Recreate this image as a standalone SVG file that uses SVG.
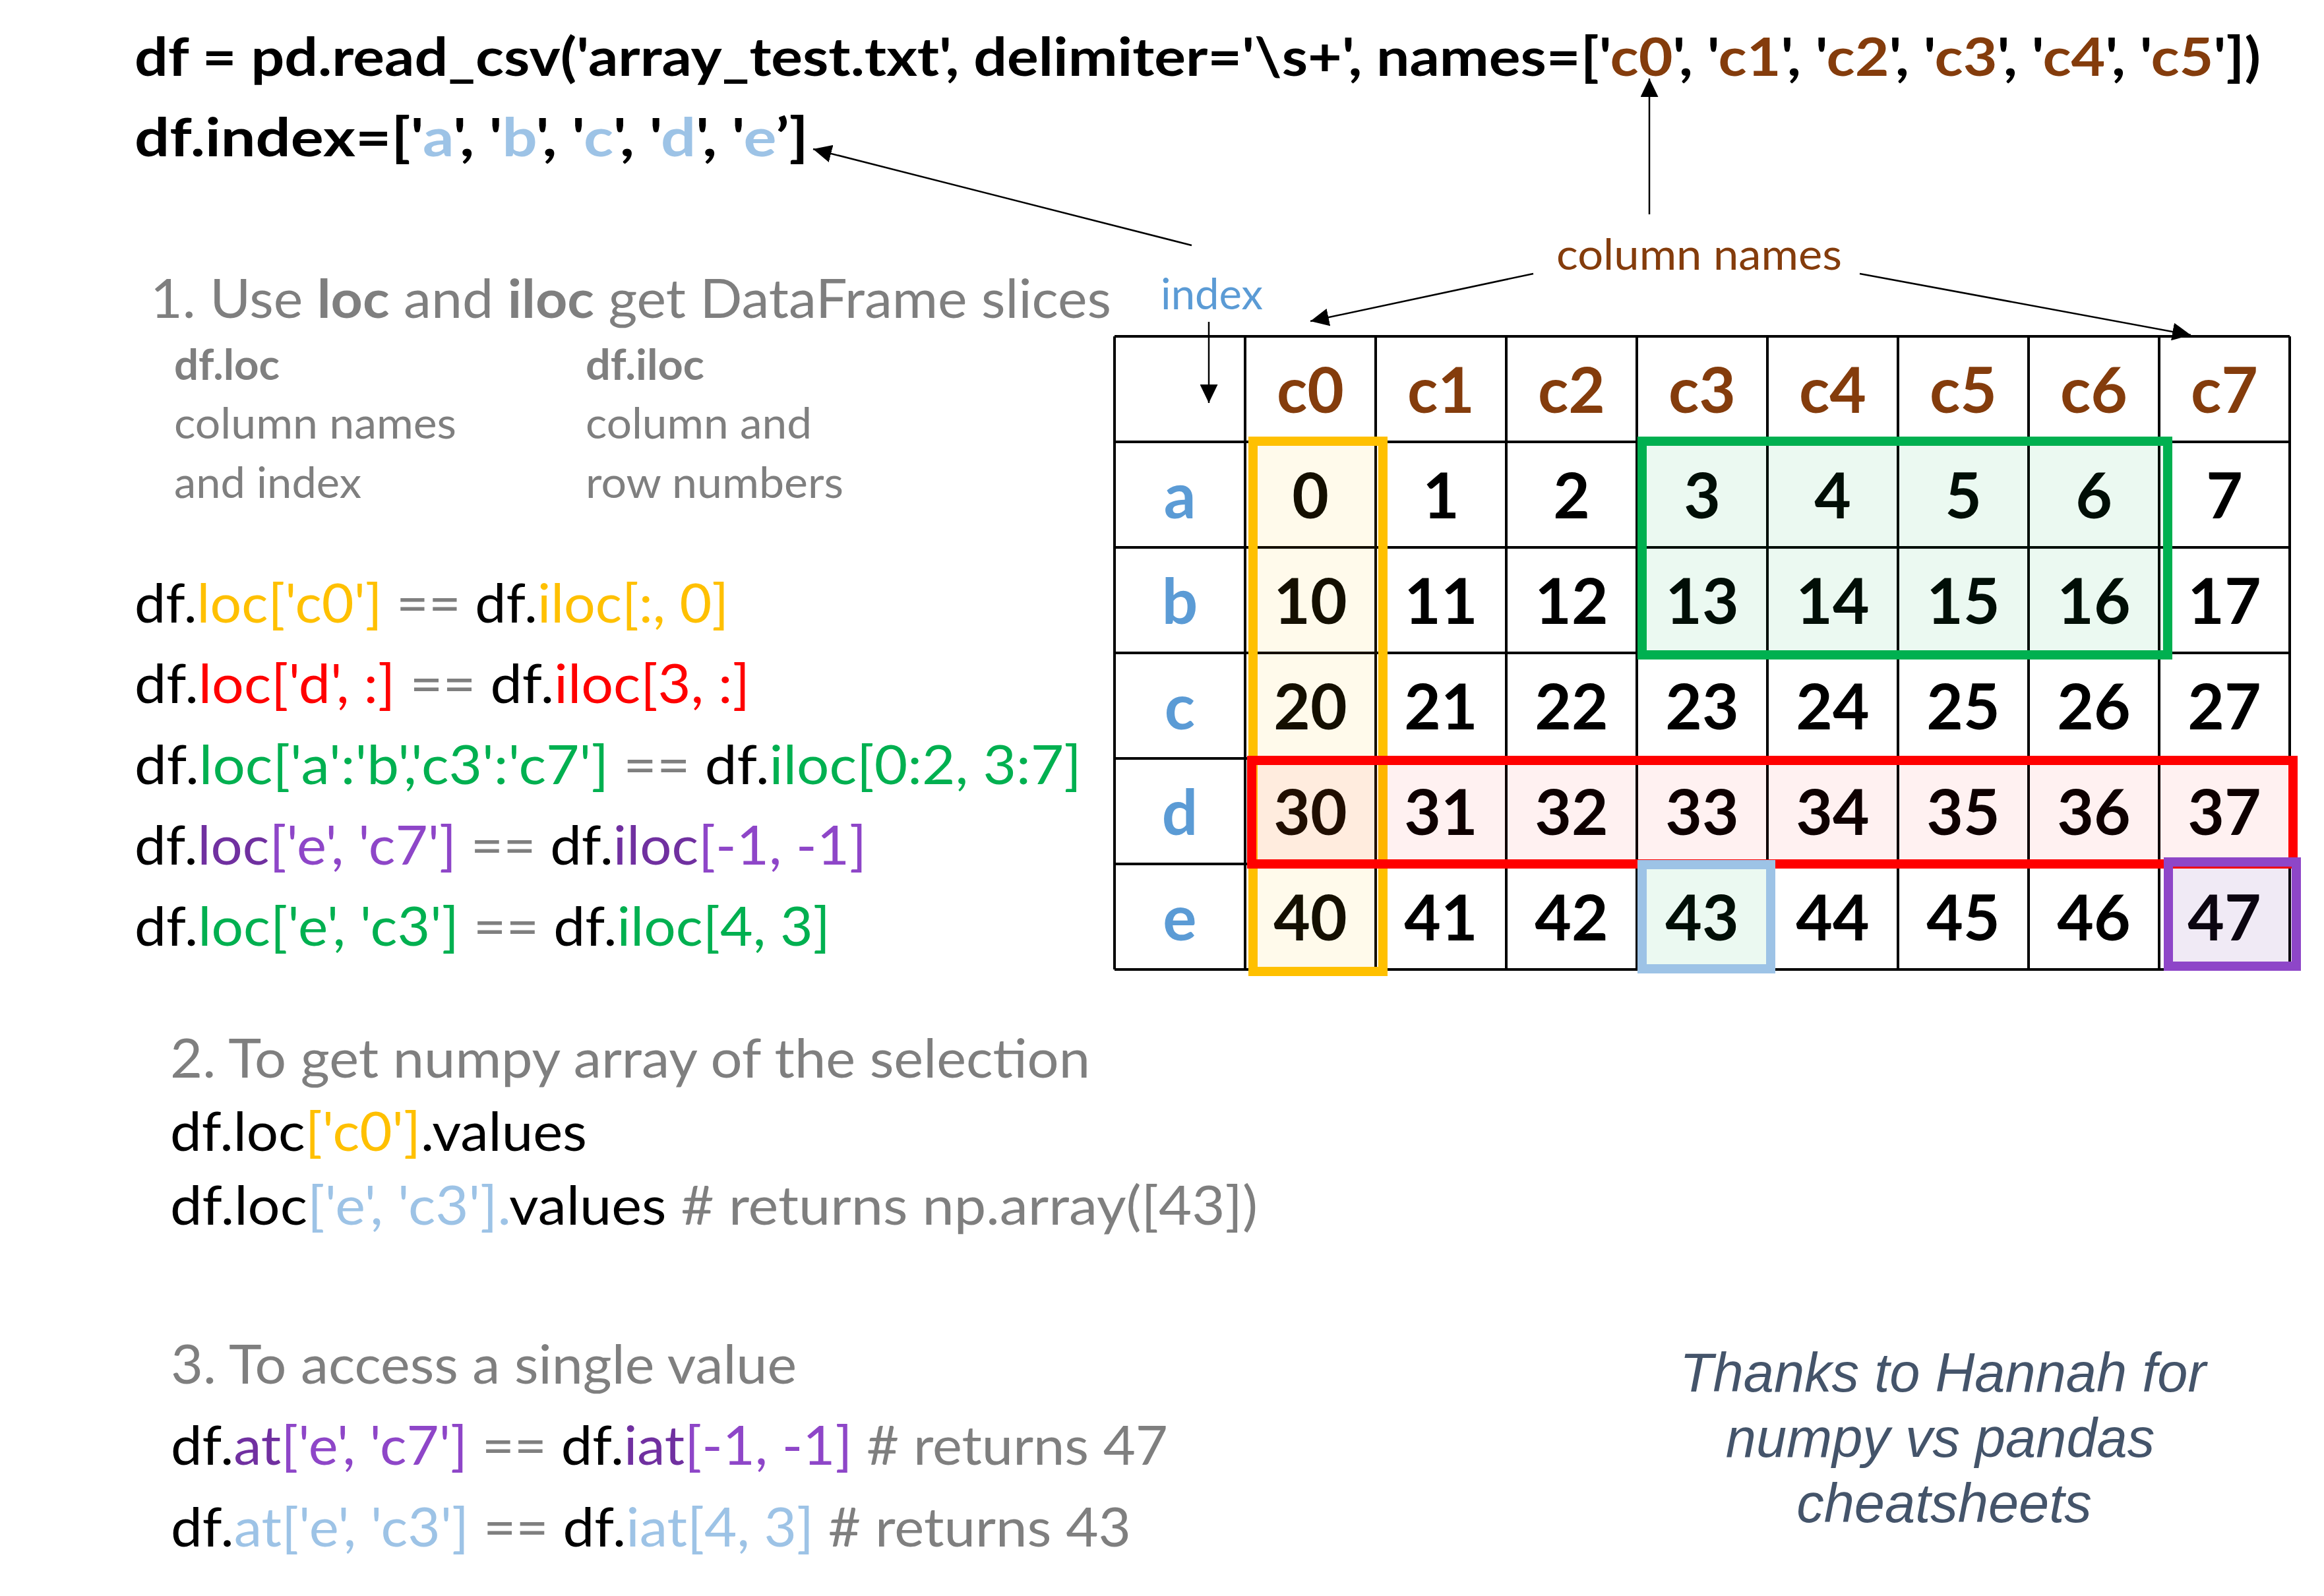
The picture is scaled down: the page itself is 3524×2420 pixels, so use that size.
<svg xmlns="http://www.w3.org/2000/svg" width="3524" height="2420" viewBox="0 0 3524 2420">
<style>
text{font-family:Lato,"Open Sans","Liberation Sans",sans-serif;}
.bold{font-weight:700;}
.code{font-size:81px;}
.top{font-size:80px;font-weight:700;}
.small{font-size:65px;}
.gray{fill:#7F7F7F;}
.blk{fill:#000000;}
.brn{fill:#843C0C;}
.lb{fill:#9DC3E6;}
.or{fill:#FFC000;}
.rd{fill:#FF0000;}
.gr{fill:#00B050;}
.dp{fill:#7030A0;}
.lp{fill:#8E46C8;}
.cell{font-size:96px;font-weight:700;text-anchor:middle;fill:#000;}
.hdr{font-size:96px;font-weight:700;text-anchor:middle;fill:#843C0C;}
.row{font-size:96px;font-weight:700;text-anchor:middle;fill:#5B9BD5;}
.grid{stroke:#000;stroke-width:4;fill:none;}
.box{stroke-width:14;}
.conn{stroke:#000;stroke-width:2.5;fill:none;marker-end:url(#arrow);}
.credit{font-family:"Liberation Sans",Arial,sans-serif;font-style:italic;font-size:83px;fill:#44546A;text-anchor:middle;}
</style>
<defs>
<marker id="arrow" markerUnits="userSpaceOnUse" markerWidth="28" markerHeight="27" refX="28" refY="13.5" orient="auto">
<path d="M0,0 L28,13.5 L0,27 z" fill="#000"/>
</marker>
</defs>
<rect x="0" y="0" width="3524" height="2420" fill="#FFFFFF"/>

<g id="header-code">
<text x="204" y="115" class="top blk" textLength="3224" lengthAdjust="spacingAndGlyphs">df = pd.read_csv('array_test.txt', delimiter='\s+', names=['<tspan class="brn">c0</tspan>', '<tspan class="brn">c1</tspan>', '<tspan class="brn">c2</tspan>', '<tspan class="brn">c3</tspan>', '<tspan class="brn">c4</tspan>', '<tspan class="brn">c5</tspan>'])</text>
<text x="204" y="237" class="top blk" textLength="1022" lengthAdjust="spacingAndGlyphs">df.index=['<tspan class="lb">a</tspan>', '<tspan class="lb">b</tspan>', '<tspan class="lb">c</tspan>', '<tspan class="lb">d</tspan>', '<tspan class="lb">e</tspan>’]</text>
</g>

<g id="section1">
<text x="228" y="482" class="code gray" textLength="1457" lengthAdjust="spacingAndGlyphs">1. Use <tspan class="bold">loc</tspan> and <tspan class="bold">iloc</tspan> get DataFrame slices</text>
<text x="264" y="576" class="small gray bold" textLength="160" lengthAdjust="spacingAndGlyphs">df.loc</text>
<text x="888" y="576" class="small gray bold" textLength="180" lengthAdjust="spacingAndGlyphs">df.iloc</text>
<text x="264" y="665" class="small gray" textLength="428" lengthAdjust="spacingAndGlyphs">column names</text>
<text x="264" y="755" class="small gray" textLength="284" lengthAdjust="spacingAndGlyphs">and index</text>
<text x="888" y="665" class="small gray" textLength="343" lengthAdjust="spacingAndGlyphs">column and</text>
<text x="888" y="755" class="small gray" textLength="391" lengthAdjust="spacingAndGlyphs">row numbers</text>
<text x="204" y="944" class="code blk" textLength="901" lengthAdjust="spacingAndGlyphs">df.<tspan class="or">loc['c0']</tspan><tspan class="gray"> == </tspan>df.<tspan class="or">iloc[:, 0]</tspan></text>
<text x="204" y="1066" class="code blk" textLength="933" lengthAdjust="spacingAndGlyphs">df.<tspan class="rd">loc['d', :]</tspan><tspan class="gray"> == </tspan>df.<tspan class="rd">iloc[3, :]</tspan></text>
<text x="204" y="1189" class="code blk" textLength="1436" lengthAdjust="spacingAndGlyphs">df.<tspan class="gr">loc['a':'b','c3':'c7']</tspan><tspan class="gray"> == </tspan>df.<tspan class="gr">iloc[0:2, 3:7]</tspan></text>
<text x="204" y="1311" class="code blk" textLength="1110" lengthAdjust="spacingAndGlyphs">df.<tspan class="dp">loc</tspan><tspan class="lp">['e', 'c7']</tspan><tspan class="gray"> == </tspan>df.<tspan class="dp">iloc</tspan><tspan class="lp">[-1, -1]</tspan></text>
<text x="204" y="1434" class="code blk" textLength="1055" lengthAdjust="spacingAndGlyphs">df.<tspan class="gr">loc['e', 'c3']</tspan><tspan class="gray"> == </tspan>df.<tspan class="gr">iloc[4, 3]</tspan></text>
</g>

<g id="table">
<g id="table-grid" class="grid">
<path d="M1690,510 H3472 M1690,670 H3472 M1690,830 H3472 M1690,990 H3472 M1690,1150 H3472 M1690,1310 H3472 M1690,1470 H3472"/>
<path d="M1690,510 V1470 M1888,510 V1470 M2086,510 V1470 M2284,510 V1470 M2482,510 V1470 M2680,510 V1470 M2878,510 V1470 M3076,510 V1470 M3274,510 V1470 M3472,510 V1470"/>
</g>
<g id="table-header">
<text x="1987" y="626" class="hdr">c0</text>
<text x="2185" y="626" class="hdr">c1</text>
<text x="2383" y="626" class="hdr">c2</text>
<text x="2581" y="626" class="hdr">c3</text>
<text x="2779" y="626" class="hdr">c4</text>
<text x="2977" y="626" class="hdr">c5</text>
<text x="3175" y="626" class="hdr">c6</text>
<text x="3373" y="626" class="hdr">c7</text>
</g>
<g id="table-index">
<text x="1789" y="786" class="row">a</text>
<text x="1789" y="946" class="row">b</text>
<text x="1789" y="1106" class="row">c</text>
<text x="1789" y="1266" class="row">d</text>
<text x="1789" y="1426" class="row">e</text>
</g>
<g id="table-values">
<text x="1987" y="786" class="cell">0</text><text x="2185" y="786" class="cell">1</text><text x="2383" y="786" class="cell">2</text><text x="2581" y="786" class="cell">3</text><text x="2779" y="786" class="cell">4</text><text x="2977" y="786" class="cell">5</text><text x="3175" y="786" class="cell">6</text><text x="3373" y="786" class="cell">7</text>
<text x="1987" y="946" class="cell">10</text><text x="2185" y="946" class="cell">11</text><text x="2383" y="946" class="cell">12</text><text x="2581" y="946" class="cell">13</text><text x="2779" y="946" class="cell">14</text><text x="2977" y="946" class="cell">15</text><text x="3175" y="946" class="cell">16</text><text x="3373" y="946" class="cell">17</text>
<text x="1987" y="1106" class="cell">20</text><text x="2185" y="1106" class="cell">21</text><text x="2383" y="1106" class="cell">22</text><text x="2581" y="1106" class="cell">23</text><text x="2779" y="1106" class="cell">24</text><text x="2977" y="1106" class="cell">25</text><text x="3175" y="1106" class="cell">26</text><text x="3373" y="1106" class="cell">27</text>
<text x="1987" y="1266" class="cell">30</text><text x="2185" y="1266" class="cell">31</text><text x="2383" y="1266" class="cell">32</text><text x="2581" y="1266" class="cell">33</text><text x="2779" y="1266" class="cell">34</text><text x="2977" y="1266" class="cell">35</text><text x="3175" y="1266" class="cell">36</text><text x="3373" y="1266" class="cell">37</text>
<text x="1987" y="1426" class="cell">40</text><text x="2185" y="1426" class="cell">41</text><text x="2383" y="1426" class="cell">42</text><text x="2581" y="1426" class="cell">43</text><text x="2779" y="1426" class="cell">44</text><text x="2977" y="1426" class="cell">45</text><text x="3175" y="1426" class="cell">46</text><text x="3373" y="1426" class="cell">47</text>
</g>
</g>

<g id="selection-boxes">
<rect id="sel-c0" class="box" x="1900" y="669" width="197" height="804" fill="#FFC000" fill-opacity="0.08" stroke="#FFC000"/>
<rect id="sel-ab-c3c6" class="box" x="2490" y="669" width="797" height="324" fill="#00B050" fill-opacity="0.08" stroke="#00B050"/>
<rect id="sel-d" class="box" x="1898" y="1153" width="1579" height="157" fill="#FF0000" fill-opacity="0.055" stroke="#FF0000"/>
<rect id="sel-e-c3" class="box" x="2490" y="1311" width="195" height="158" fill="#00B050" fill-opacity="0.08" stroke="#9DC3E6"/>
<rect id="sel-e-c7" class="box" x="3288" y="1307" width="194" height="158" fill="#7030A0" fill-opacity="0.1" stroke="#8E46C8"/>
</g>

<g id="labels">
<text id="label-index" x="1760" y="469" class="small" fill="#5B9BD5" textLength="155" lengthAdjust="spacingAndGlyphs">index</text>
<text id="label-column-names" x="2360" y="409" class="small brn" textLength="433" lengthAdjust="spacingAndGlyphs">column names</text>
</g>

<g id="connectors">
<line class="conn" x1="1833" y1="488" x2="1833" y2="611"/>
<line class="conn" x1="2325" y1="415" x2="1987" y2="487"/>
<line class="conn" x1="2820" y1="415" x2="3322" y2="508"/>
<line class="conn" x1="2501" y1="325" x2="2501" y2="119"/>
<line class="conn" x1="1807" y1="372" x2="1233" y2="226"/>
</g>

<g id="section2">
<text x="258" y="1634" class="code gray" textLength="1395" lengthAdjust="spacingAndGlyphs">2. To get numpy array of the selection</text>
<text x="258" y="1745" class="code blk" textLength="632" lengthAdjust="spacingAndGlyphs">df.loc<tspan class="or">['c0']</tspan>.values</text>
<text x="258" y="1857" class="code blk" textLength="1649" lengthAdjust="spacingAndGlyphs">df.loc<tspan class="lb">['e', 'c3'].</tspan>values<tspan class="gray"> # returns np.array([43])</tspan></text>
</g>

<g id="section3">
<text x="259" y="2098" class="code gray" textLength="949" lengthAdjust="spacingAndGlyphs">3. To access a single value</text>
<text x="259" y="2221" class="code blk" textLength="1512" lengthAdjust="spacingAndGlyphs">df.<tspan class="dp">at</tspan><tspan class="lp">['e', 'c7']</tspan><tspan class="gray"> == </tspan>df.<tspan class="dp">iat</tspan><tspan class="lp">[-1, -1]</tspan><tspan class="gray"> # returns 47</tspan></text>
<text x="259" y="2345" class="code blk" textLength="1456" lengthAdjust="spacingAndGlyphs">df.<tspan class="lb">at['e', 'c3']</tspan><tspan class="gray"> == </tspan>df.<tspan class="lb">iat[4, 3]</tspan><tspan class="gray"> # returns 43</tspan></text>
</g>

<g id="credit">
<text x="2946" y="2110" class="credit">Thanks to Hannah for</text>
<text x="2942" y="2209" class="credit">numpy vs pandas</text>
<text x="2948" y="2308" class="credit">cheatsheets</text>
</g>
</svg>
